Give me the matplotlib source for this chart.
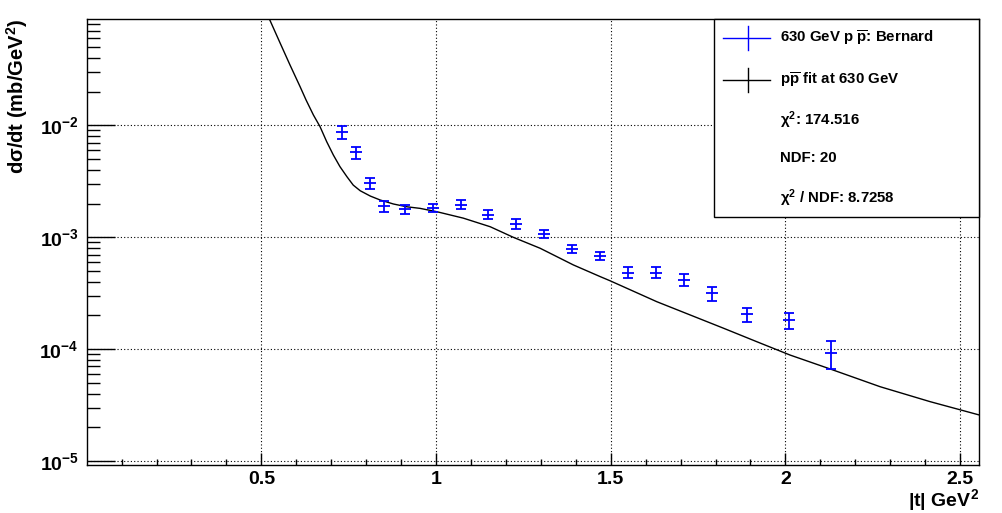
import math
import matplotlib
matplotlib.use("Agg")
import matplotlib.pyplot as plt
from matplotlib.ticker import FixedLocator, LogLocator, FuncFormatter, NullFormatter, MultipleLocator
from matplotlib.lines import Line2D
from matplotlib.patches import Rectangle

plt.rcParams['font.family'] = ['Liberation Sans', 'DejaVu Sans']
plt.rcParams['font.weight'] = 'bold'
plt.rcParams['mathtext.fontset'] = 'custom'
plt.rcParams['mathtext.rm'] = 'Liberation Sans:bold'
plt.rcParams['mathtext.bf'] = 'Liberation Sans:bold'
plt.rcParams['mathtext.it'] = 'Liberation Sans:bold'

# 630 GeV p pbar data (Bernard)
t_data = [0.73, 0.77, 0.81, 0.85, 0.91, 0.99, 1.07, 1.15, 1.23, 1.31,
          1.39, 1.47, 1.55, 1.63, 1.71, 1.79, 1.89, 2.01, 2.13]
dsdt_data = [8.7e-3, 5.75e-3, 3.03e-3, 1.89e-3, 1.77e-3, 1.84e-3, 1.95e-3, 1.59e-3, 1.32e-3, 1.075e-3,
             7.85e-4, 6.8e-4, 4.82e-4, 4.82e-4, 4.17e-4, 3.15e-4, 2.05e-4, 1.81e-4, 9.2e-5]
dsdt_err = [1.13e-3, 0.71e-3, 0.33e-3, 0.21e-3, 0.155e-3, 0.155e-3, 0.18e-3, 0.15e-3, 0.13e-3, 0.09e-3,
            0.07e-3, 0.06e-3, 0.54e-4, 0.54e-4, 0.52e-4, 0.45e-4, 0.30e-4, 0.30e-4, 0.26e-4]

# fit curve
t_fit = [0.523, 0.554, 0.582, 0.611, 0.628, 0.649, 0.668, 0.687, 0.706, 0.725,
         0.745, 0.763, 0.783, 0.812, 0.840, 0.878, 0.916, 0.954, 1.002, 1.078,
         1.155, 1.221, 1.298, 1.393, 1.470, 1.498, 1.632, 1.727, 1.823, 1.918,
         2.013, 2.128, 2.271, 2.414, 2.554]
dsdt_fit = [0.0891, 0.0541, 0.0346, 0.0221, 0.01683, 0.01236, 0.00972, 0.00714, 0.00543, 0.00427,
            0.00347, 0.00292, 0.0026, 0.00233, 0.00215, 0.00198, 0.00187, 0.00181, 0.00169, 0.00148,
            0.00124, 0.000998, 0.000796, 0.000565, 0.000444, 0.000408, 0.000265, 0.000202, 0.0001535, 0.0001164,
            8.85e-5, 6.64e-5, 4.61e-5, 3.39e-5, 2.58e-5]

legend_lines = ['630 GeV p $\\overline{\\mathbf{p}}$: Bernard',
                'p$\\overline{\\mathbf{p}}$ fit at 630 GeV',
                '\u03c7$^{2}$: 174.516',
                'NDF: 20',
                '\u03c7$^{2}$ / NDF: 8.7258']

W, H = 1002, 513
fig = plt.figure(figsize=(W / 100, H / 100), dpi=100)
ax = fig.add_axes([87 / W, 1 - 465 / H, (979 - 87) / W, (465 - 19) / H])

ax.errorbar(t_data, dsdt_data, yerr=dsdt_err, fmt='none', ecolor='#0000ff',
            elinewidth=1.3, capsize=3.5, capthick=1.3, zorder=3)
ax.plot(t_data, dsdt_data, ls='none', marker='_', ms=8, mew=1.3, color='#0000ff', zorder=3)
ax.plot(t_fit, dsdt_fit, color='black', lw=1.0, zorder=2)

ax.set_yscale('log')
ax.set_xlim(0.001, 2.554)
ax.set_ylim(10 ** -5.036, 10 ** -1.050)

ax.xaxis.set_major_locator(FixedLocator([0.5, 1.0, 1.5, 2.0, 2.5]))
ax.xaxis.set_minor_locator(MultipleLocator(0.1))
ax.xaxis.set_major_formatter(FuncFormatter(lambda v, p: '%g' % v))
ax.yaxis.set_major_locator(LogLocator(base=10, numticks=10))
ax.yaxis.set_minor_locator(LogLocator(base=10, subs=range(2, 10), numticks=20))
ax.yaxis.set_minor_formatter(NullFormatter())
ax.yaxis.set_major_formatter(FuncFormatter(lambda v, p: '$\\mathbf{10^{%d}}$' % round(math.log10(v))))

ax.tick_params(axis='both', which='both', direction='in', top=False, right=False,
               labelsize=14, color='black')
ax.tick_params(axis='x', which='major', length=9, width=1, pad=4)
ax.tick_params(axis='x', which='minor', length=4.5, width=1)
ax.tick_params(axis='y', which='major', length=20, width=1, pad=6)
ax.tick_params(axis='y', which='minor', length=9.5, width=1)
for s in ax.spines.values():
    s.set_linewidth(1.0)

ax.grid(True, which='major', color='black', ls=(0, (1, 2)), lw=0.8)

fig.text(979 / W, 1 - 500 / H, '|t| GeV$^{2}$', ha='right', va='center', fontsize=14, fontweight='bold')
fig.text(17 / W, 1 - 19 / H, 'd\u03c3/dt (mb/GeV$^{2}$)', rotation=90, ha='center', va='top',
         fontsize=14.5, fontweight='bold')

# legend box (ROOT style)
fig.patches.append(Rectangle((714 / W, 1 - 217 / H), (979 - 714) / W, (217 - 19) / H,
                             transform=fig.transFigure, facecolor='white', edgecolor='black',
                             lw=1.0, zorder=5))
ys = [38.3, 80, 120, 158.3, 198.3]
for i, (txt, yy) in enumerate(zip(legend_lines, ys)):
    if i < 2:
        c = '#0000ff' if i == 0 else 'black'
        fig.add_artist(Line2D([723 / W, 770 / W], [1 - yy / H, 1 - yy / H], color=c, lw=1.0, zorder=6))
        fig.add_artist(Line2D([747.5 / W, 747.5 / W], [1 - (yy - 12) / H, 1 - (yy + 12) / H],
                              color=c, lw=1.0, zorder=6))
    fig.text(780 / W, 1 - yy / H, txt, ha='left', va='center', fontsize=10.8, fontweight='bold', zorder=7)

fig.savefig('out.png', dpi=100)
